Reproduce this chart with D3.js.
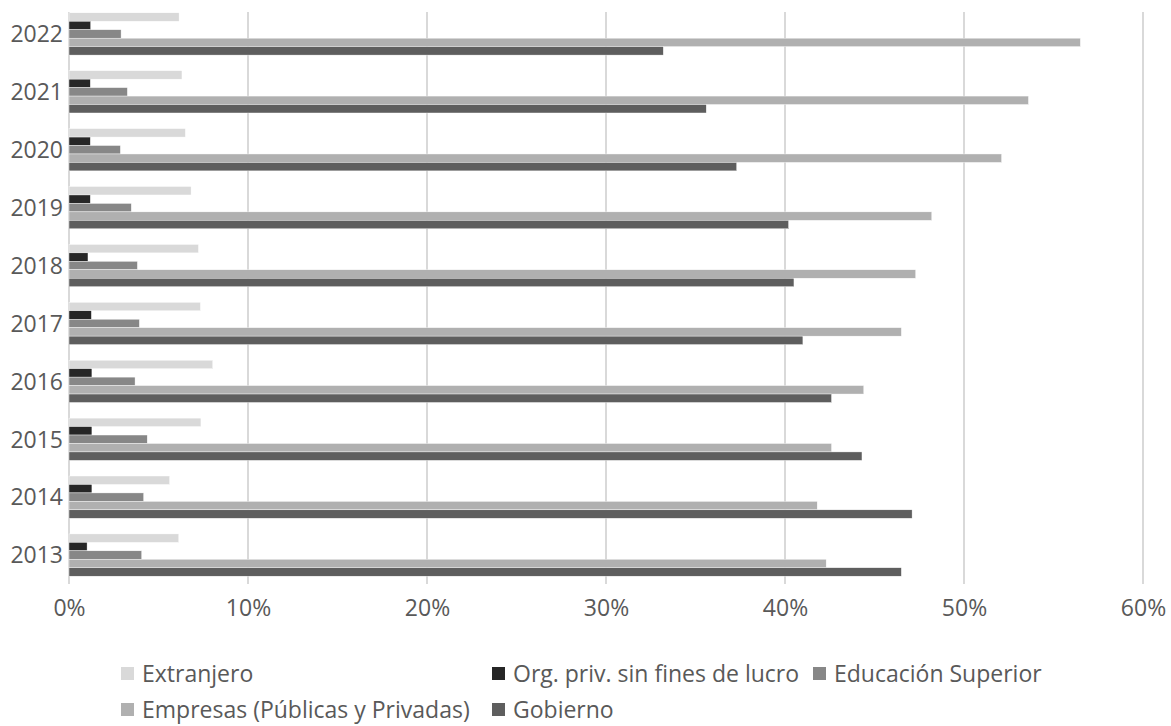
<!DOCTYPE html>
<html>
<head>
<meta charset="utf-8">
<script src="https://cdn.jsdelivr.net/npm/d3@7"></script>
<style>
  body { margin: 0; background: #fff; }
  svg text { font-family: "Open Sans", "Noto Sans", sans-serif; fill: #595959; }
</style>
</head>
<body>
<div id="chart"></div>
<script>
// years, top to bottom
var years = ["2022", "2021", "2020", "2019", "2018", "2017", "2016", "2015", "2014", "2013"];
var seriesNames = ["Extranjero", "Org. priv. sin fines de lucro", "Educación Superior", "Empresas (Públicas y Privadas)", "Gobierno"];
var seriesColors = ["#d9d9d9", "#262626", "#878787", "#b0b0b0", "#5e5e5e"];
var xTicks = [0, 10, 20, 30, 40, 50, 60];

// values in percent, same order as years
var extranjero = [6.15, 6.31, 6.50, 6.82, 7.23, 7.34, 8.03, 7.37, 5.62, 6.13];
var orgPriv    = [1.21, 1.19, 1.19, 1.19, 1.06, 1.25, 1.28, 1.28, 1.28, 1.01];
var eduSup     = [2.91, 3.26, 2.87, 3.48, 3.82, 3.93, 3.69, 4.37, 4.17, 4.06];
var empresas   = [56.5, 53.6, 52.1, 48.2, 47.3, 46.5, 44.4, 42.6, 41.8, 42.3];
var gobierno   = [33.2, 35.6, 37.3, 40.2, 40.5, 41.0, 42.6, 44.3, 47.1, 46.5];

var seriesValues = [extranjero, orgPriv, eduSup, empresas, gobierno];

var width = 1171, height = 726;

var svg = d3.select("#chart").append("svg")
  .attr("width", width)
  .attr("height", height);

var x = d3.scaleLinear().domain([0, 60]).range([69, 1143]);
var y = d3.scaleBand().domain(years).range([5, 584])
  .paddingInner(0.27).paddingOuter(0.135);
var ySub = d3.scaleBand().domain(d3.range(seriesNames.length)).range([0, y.bandwidth()]);

//gridlines
svg.append("g").selectAll("line")
  .data(xTicks)
  .enter().append("line")
    .attr("x1", function(d) { return x(d); })
    .attr("x2", function(d) { return x(d); })
    .attr("y1", 12)
    .attr("y2", 584)
    .attr("stroke", "#d9d9d9")
    .attr("stroke-width", 2);

//bars, one group per year
var groups = svg.append("g").selectAll("g")
  .data(years)
  .enter().append("g")
    .attr("transform", function(d) { return "translate(0," + y(d) + ")"; });

groups.selectAll("rect")
  .data(function(d, i) {
    return seriesValues.map(function(vals, s) { return {s: s, v: vals[i]}; });
  })
  .enter().append("rect")
    .attr("x", x(0))
    .attr("y", function(d) { return ySub(d.s); })
    .attr("width", function(d) { return x(d.v) - x(0); })
    .attr("height", ySub.bandwidth())
    .attr("fill", function(d) { return seriesColors[d.s]; })
    .attr("stroke", "#fff")
    .attr("stroke-width", 0.4);

//x axis labels
var xAxis = d3.axisBottom(x).tickValues(xTicks)
  .tickFormat(function(d) { return d + "%"; })
  .tickSize(0).tickPadding(0);
var gx = svg.append("g")
  .attr("transform", "translate(0,616)")
  .call(xAxis);
gx.select(".domain").remove();
gx.selectAll("text")
  .attr("dy", 0)
  .style("font-size", "23px");

//y axis labels
var yAxis = d3.axisLeft(y).tickSize(0).tickPadding(0);
var gy = svg.append("g")
  .attr("transform", "translate(63,0)")
  .call(yAxis);
gy.select(".domain").remove();
gy.selectAll("text")
  .attr("dy", "0.36em")
  .style("font-size", "23px");

//legend (two rows)
var legendPos = [[121, 682], [492, 682], [813, 682], [121, 718], [492, 718]];
var legend = svg.append("g").selectAll("g")
  .data(seriesNames)
  .enter().append("g")
    .attr("transform", function(d, i) { return "translate(" + legendPos[i][0] + "," + legendPos[i][1] + ")"; });
legend.append("rect")
  .attr("x", 0).attr("y", -15)
  .attr("width", 13).attr("height", 13)
  .attr("fill", function(d, i) { return seriesColors[i]; });
legend.append("text")
  .attr("x", 21)
  .style("font-size", "23px")
  .text(function(d) { return d; });
</script>
</body>
</html>
